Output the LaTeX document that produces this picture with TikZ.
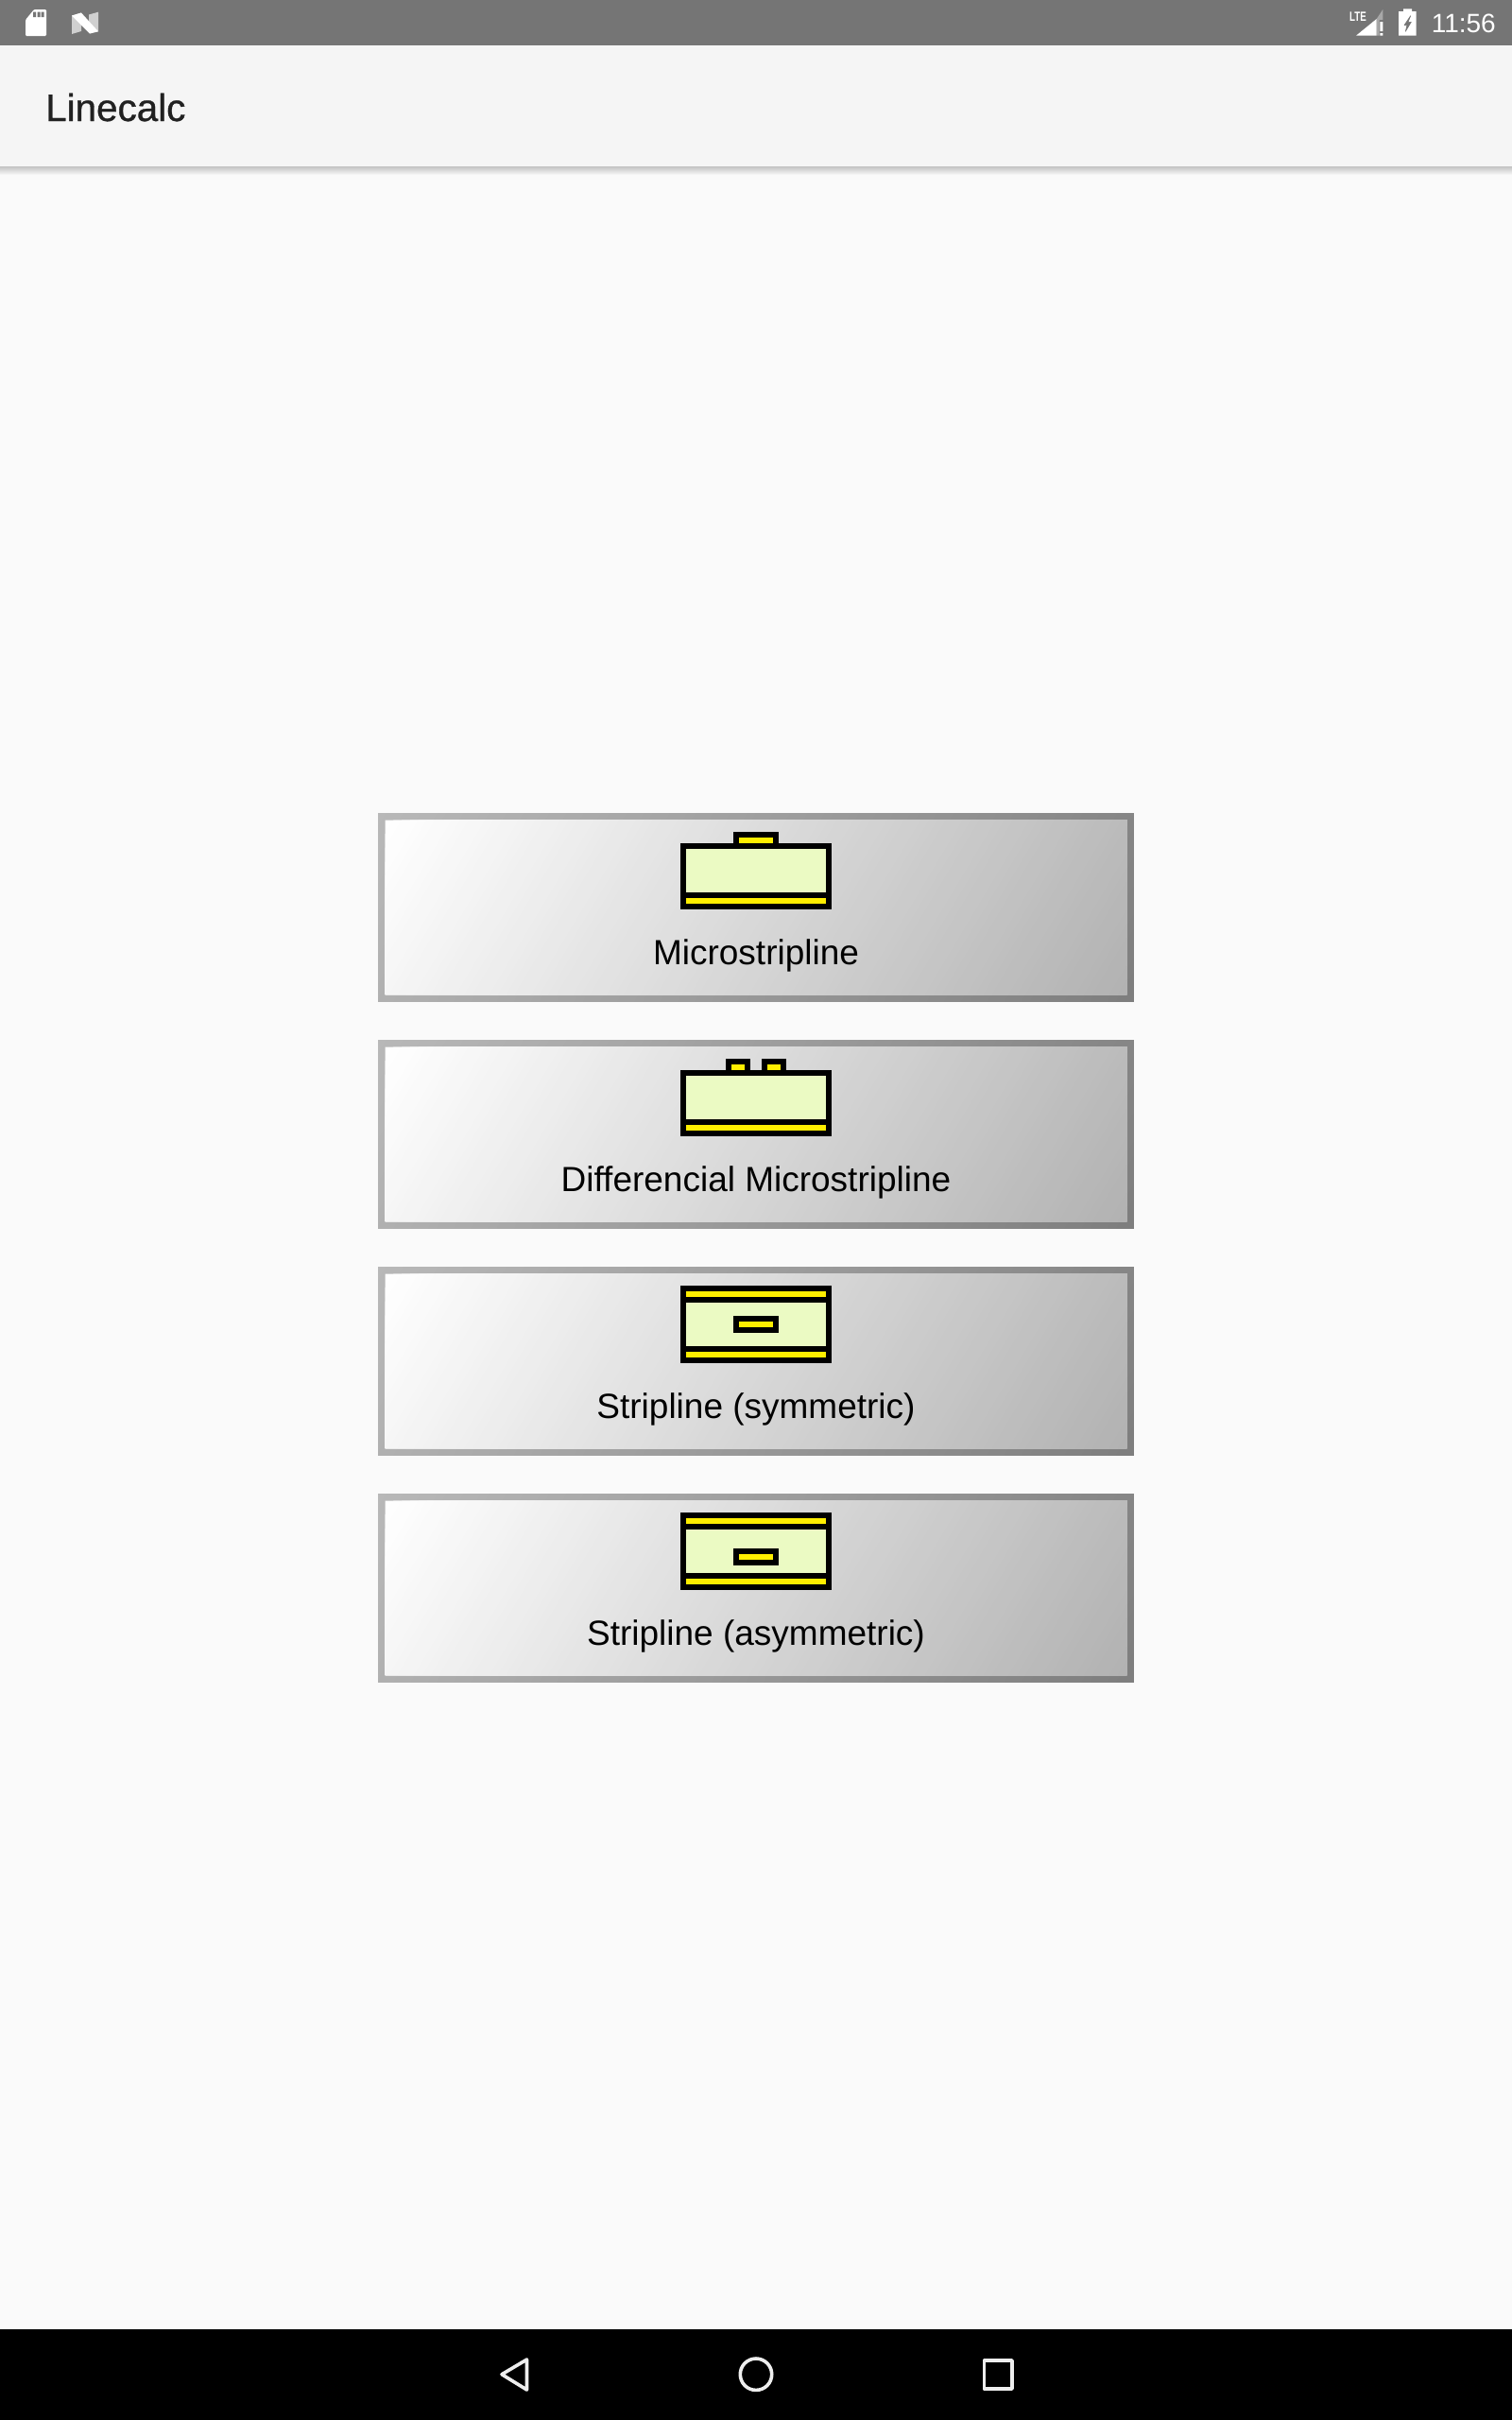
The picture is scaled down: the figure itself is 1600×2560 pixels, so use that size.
\documentclass[tikz,border=0pt]{standalone}
\usepackage{fontspec}
\setmainfont{Liberation Sans}
\newfontfamily\titlefont[FakeBold=0.8]{Liberation Sans}
\newfontfamily\ltefont[FakeStretch=0.7]{Liberation Sans}
\definecolor{pagebg}{HTML}{FAFAFA}
\definecolor{statusbg}{HTML}{757575}
\definecolor{appbg}{HTML}{F5F5F5}
\definecolor{titletext}{HTML}{212121}
\definecolor{subst}{HTML}{EBFAC3}
\definecolor{metal}{HTML}{FFEE00}
\definecolor{navline}{HTML}{EEEEEE}
\definecolor{iconshade}{HTML}{D0D0D0}
\definecolor{signalgray}{HTML}{A8A8A8}
\definecolor{frameA}{HTML}{B8B8B8}
\definecolor{frameB}{HTML}{7E7E7E}
\definecolor{faceA}{HTML}{FFFFFF}
\definecolor{faceB}{HTML}{B2B2B2}
\tikzset{
  ink/.style={fill=black},
  dielectric/.style={fill=subst},
  conductor/.style={fill=metal},
  navicon/.style={draw=navline,line width=3.6pt,line join=round},
  btnlabel/.style={anchor=base,inner sep=0pt,font=\fontsize{37}{40}\selectfont,text=black},
}
% diagonal gradient by overpainted strips: #1 x, #2 y, #3 w, #4 h, #5 from colour, #6 to colour
\newcommand{\gradrect}[6]{%
  \begin{scope}
    \clip (#1,#2) rectangle (#1+#3,#2+#4);
    \foreach \gradstep in {0,...,100}{%
      \pgfmathsetmacro{\gradc}{(#3+0.6*#4)/101*\gradstep}%
      \fill[#6!\gradstep!#5] (#1+\gradc,#2) -- (#1+#3+#4+2,#2) -- (#1+#3+2,#2+#4) -- (#1+\gradc-0.6*#4,#2+#4) -- cycle;
    }
  \end{scope}
}
% button frame, label: #1 top y, #2 node name, #3 text
\newcommand{\btnbody}[3]{%
  \gradrect{400}{#1}{799.6}{199.6}{frameA}{frameB}
  \gradrect{407.6}{#1+7.6}{784.4}{184.4}{faceA}{faceB}
  \node[btnlabel] (#2) at (800,#1+160) {#3};
}
% microstrip base: #1 top y
\newcommand{\msbase}[1]{%
  \fill[ink] (720,#1+32) rectangle (880,#1+102);
  \fill[dielectric] (726.3,#1+38.3) rectangle (873.7,#1+83.7);
  \fill[conductor] (726.25,#1+90.25) rectangle (873.75,#1+95.75);
}
% stripline base: #1 top y
\newcommand{\slbase}[1]{%
  \fill[ink] (720,#1+20) rectangle (880,#1+102);
  \fill[conductor] (726.25,#1+26.25) rectangle (873.75,#1+31.75);
  \fill[dielectric] (726.3,#1+38.3) rectangle (873.7,#1+83.7);
  \fill[conductor] (726.25,#1+90.25) rectangle (873.75,#1+95.75);
}
% conductor with outline: #1 left x, #2 right x, #3 top y
\newcommand{\trace}[3]{%
  \fill[ink] (#1,#3) rectangle (#2,#3+18);
  \fill[conductor] (#1+6.25,#3+6.25) rectangle (#2-6.25,#3+11.75);
}
\begin{document}
\begin{tikzpicture}[x=1pt,y=-1pt]
\useasboundingbox (0,0) rectangle (1600,2560);
\fill[pagebg] (0,0) rectangle (1600,2560);
% app bar
\shade[top color=black!24,bottom color=pagebg] (0,176) rectangle (1600,185);
\fill[appbg] (0,48) rectangle (1600,176);
\node[anchor=base west,inner sep=0pt,text=titletext,font=\titlefont\fontsize{40.4}{44}\selectfont] (title) at (48,128) {Linecalc};
% status bar
\fill[statusbg] (0,0) rectangle (1600,48);
% sd card
\fill[white,rounded corners=1.2pt] (27,21) -- (36,10) -- (49,10) -- (49,38) -- (27,38) -- cycle;
\fill[statusbg] (35,12.5) rectangle (38,18) (39.5,12.5) rectangle (42.5,18) (43.7,12.5) rectangle (46.7,18);
% N logo
\fill[iconshade] (76,16.5) -- (86,13.5) -- (86,33) -- (76,36) -- cycle;
\fill[iconshade] (94,15.5) -- (104,12.7) -- (104,33.3) -- (94,33) -- cycle;
\fill[white] (76,16.5) -- (86,13.5) -- (104,33.3) -- (95,35.6) -- cycle;
% signal
\node[anchor=base west,inner sep=0pt,text=white,font=\ltefont\bfseries\fontsize{14}{16}\selectfont] (lte) at (1428,22) {LTE};
\fill[signalgray] (1456.7,20) -- (1463.3,10) -- (1463.3,21) -- (1459.5,21) -- (1459.5,37.7) -- (1456.7,37.7) -- cycle;
\fill[white] (1435,37.7) -- (1456.7,37.7) -- (1456.7,20) -- cycle;
\fill[white] (1460.3,23) rectangle (1463.3,33) (1460.3,35) rectangle (1463.3,37.7);
% battery
\fill[white] (1485,9.3) rectangle (1494,12) (1480,12) rectangle (1498.7,37.7);
\filldraw[statusbg,line width=0.6pt,line join=round] (1492.7,16.7) -- (1486,26.7) -- (1489,26.7) -- (1487.3,33.3) -- (1493.3,23.3) -- (1490,23.3) -- cycle;
\node[anchor=base east,inner sep=0pt,text=white,font=\fontsize{28}{30}\selectfont] (clock) at (1583,34) {11:56};
% buttons
\btnbody{860}{btnone}{Microstripline}
\msbase{860}
\trace{776}{824}{880}
\btnbody{1100}{btntwo}{Differencial Microstripline}
\msbase{1100}
\trace{768}{794}{1120}
\trace{806}{832}{1120}
\btnbody{1340}{btnthree}{Stripline (symmetric)}
\slbase{1340}
\trace{776}{824}{1392}
\btnbody{1580}{btnfour}{Stripline (asymmetric)}
\slbase{1580}
\trace{776}{824}{1638}
% navigation bar
\fill[black] (0,2464) rectangle (1600,2560);
\draw[navicon] (531,2511.7) -- (557.5,2496) -- (557.5,2528) -- cycle;
\draw[navicon] (800,2511.7) circle [radius=16.7];
\draw[navicon] (1041.4,2497) rectangle (1071,2527);
\end{tikzpicture}
\end{document}
